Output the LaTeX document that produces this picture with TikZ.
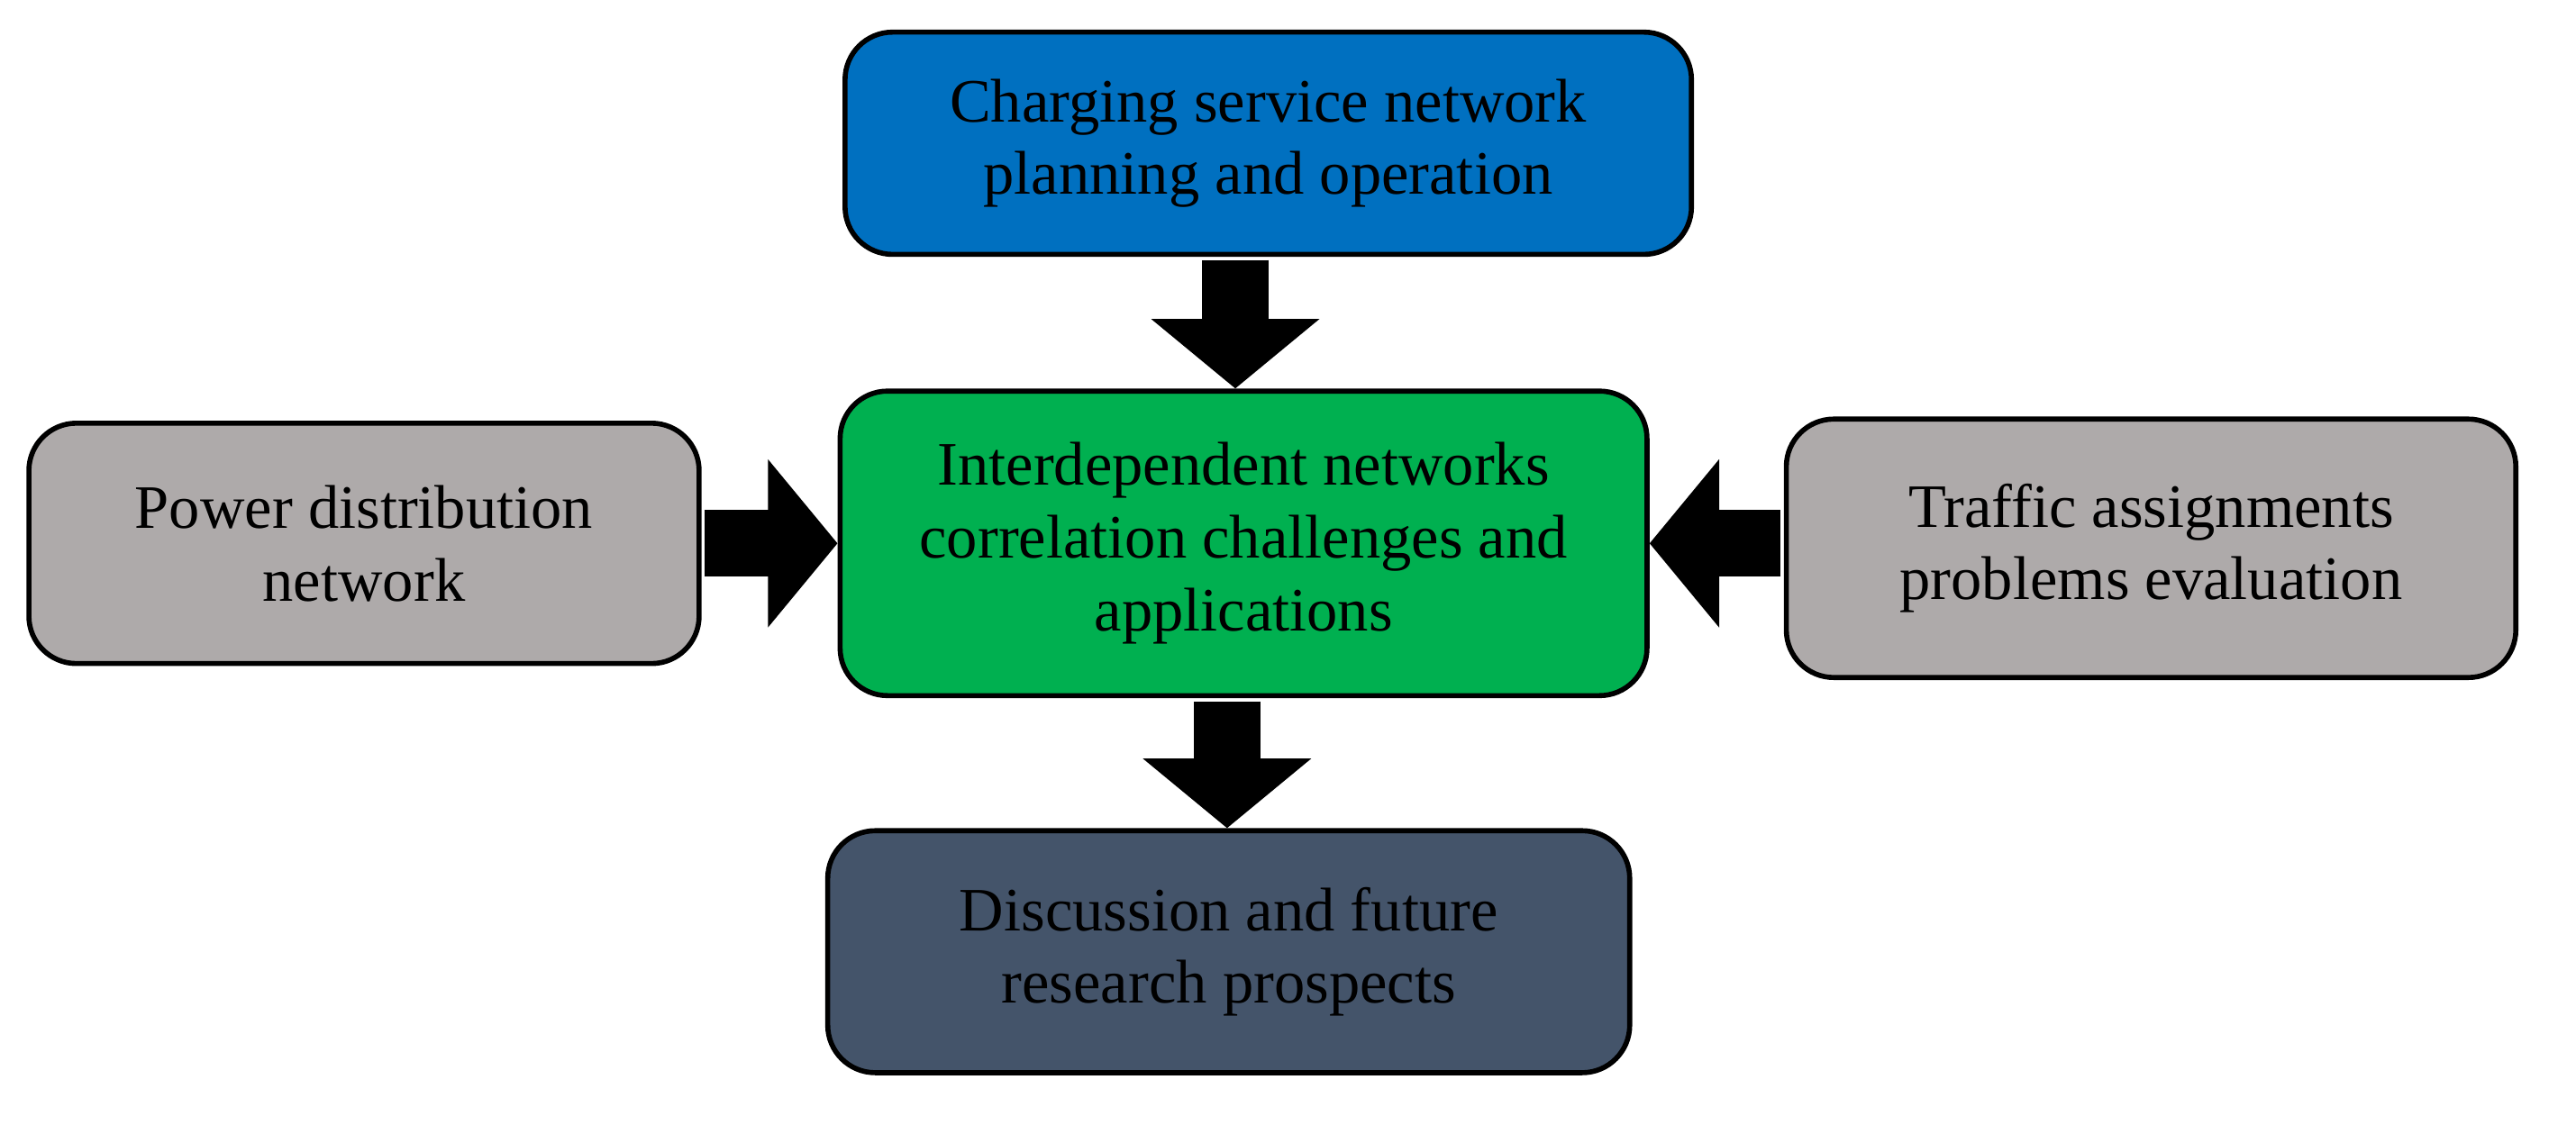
\documentclass[tikz,border=0pt]{standalone}
\usepackage{fontspec}
\setmainfont{Liberation Serif}
\usetikzlibrary{arrows.meta}
\begin{document}
\begin{tikzpicture}[x=0.18280mm,y=-0.18280mm,
  box/.style={draw=black,line width=1.6pt,rounded corners=15pt,align=center,font=\fontsize{19.5}{23}\selectfont,inner sep=0pt},
  blk/.style={draw=black,line width=21pt,-{Triangle[width=52pt,length=22pt]},shorten <=1pt,shorten >=0pt}]
\useasboundingbox (0,0) rectangle (1564,683);
\definecolor{cblue}{HTML}{0070C0}
\definecolor{cgreen}{HTML}{00B050}
\definecolor{cgray}{HTML}{AEAAAA}
\definecolor{cdark}{HTML}{44546A}
\node[box,fill=cblue,minimum width=514*0.52pt,minimum height=135*0.52pt] (top) at (770,87) {Charging service network\\planning and operation};
\node[box,fill=cgreen,minimum width=490*0.52pt,minimum height=185*0.52pt] (mid) at (755,330) {Interdependent networks\\correlation challenges and\\applications};
\node[box,fill=cgray,minimum width=407*0.52pt,minimum height=146*0.52pt] (left) at (221,330) {Power distribution\\network};
\node[box,fill=cgray,minimum width=443*0.52pt,minimum height=157*0.52pt] (right) at (1306,333) {Traffic assignments\\problems evaluation};
\node[box,fill=cdark,minimum width=487*0.52pt,minimum height=147*0.52pt] (bot) at (746,578) {Discussion and future\\research prospects};
\draw[blk] (top.south -| 750,0) -- (mid.north -| 750,0);
\draw[blk] (left.east |- 0,330) -- (mid.west |- 0,330);
\draw[blk] (right.west |- 0,330) -- (mid.east |- 0,330);
\draw[blk] (mid.south -| 745,0) -- (bot.north -| 745,0);
\end{tikzpicture}
\end{document}
